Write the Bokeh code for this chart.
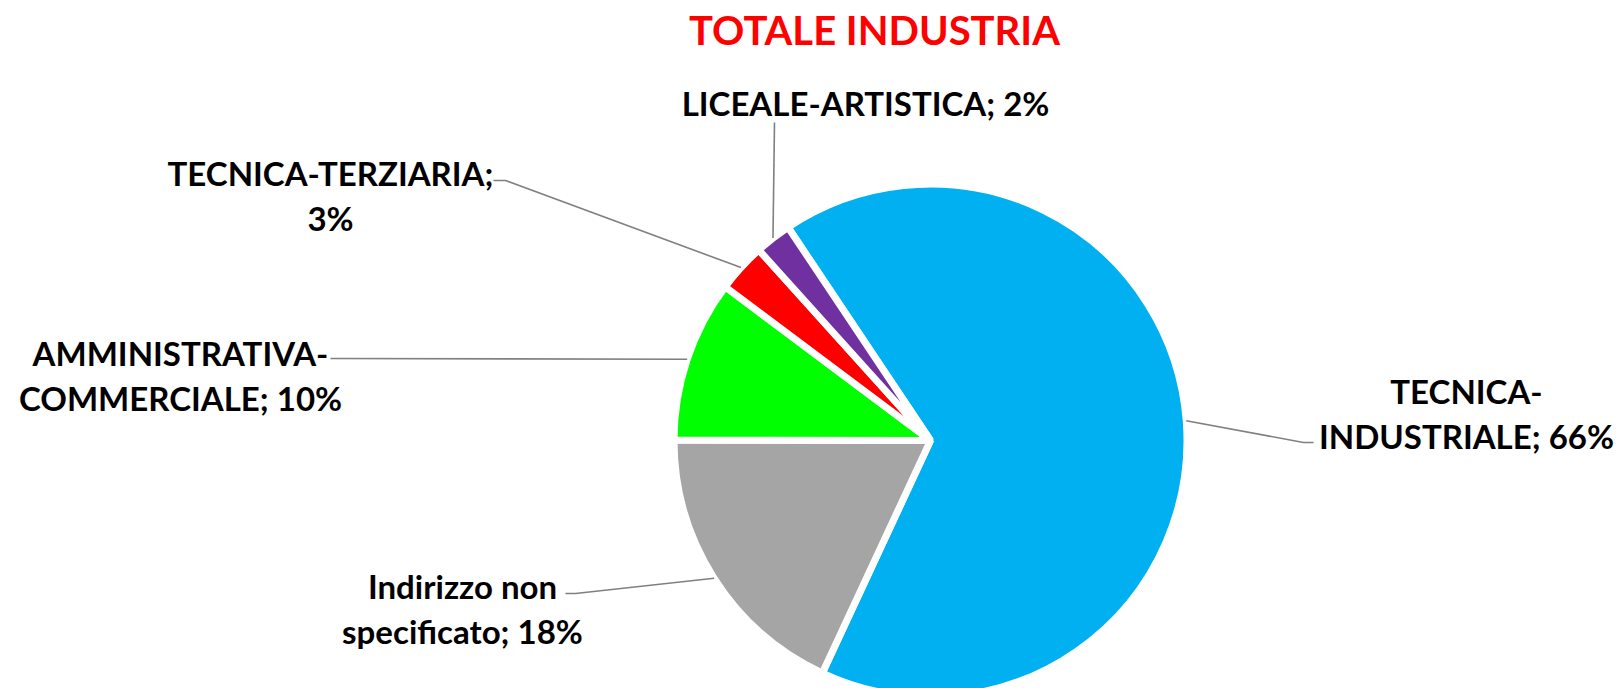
import math
from bokeh.plotting import figure
from bokeh.models import Range1d, ColumnDataSource
from bokeh.embed import file_html
from bokeh.resources import INLINE
from bokeh.core.properties import value

# ---- data ----
categories = ["TECNICA-INDUSTRIALE", "Indirizzo non specificato",
              "AMMINISTRATIVA-COMMERCIALE", "TECNICA-TERZIARIA", "LICEALE-ARTISTICA"]
shares = [66.3, 18.1, 10.2, 3.1, 2.3]
colors = ["#00B0F0", "#A5A5A5", "#00FF00", "#FF0000", "#7030A0"]
title_text = "TOTALE INDUSTRIA"

# ---- layout (screen pixel coordinates) ----
W, H = 1618, 688
cx, cy = 930, 440          # pie centre
R = 256.5                  # pie radius
first_angle = 123.75       # degrees, where first slice starts (math angle), going clockwise
wrap_at = [8, 13, 15, 18, None]
label_pos = [(1466, 400), (462, 595), (180, 362), (330, 182), (865, 112)]
line_gap = 45
label_fs = 33
title_fs = 40
label_shift = 0.3          # em offset correction for the alphabetic baseline
title_shift = 0.4
leader_tail = [
    [(1303, 442), (1313, 442)],
    [(575, 593), (565, 593)],
    [(330, 358)],
    [(505, 180), (493, 180)],
    [(774, 122)],
]

p = figure(width=W, height=H, x_range=Range1d(0, W), y_range=Range1d(-H, 0),
           output_backend="svg", toolbar_location=None, min_border=0,
           x_axis_type=None, y_axis_type=None)
p.grid.visible = False
p.outline_line_color = None
p.background_fill_color = "white"
p.border_fill_color = "white"

total = sum(shares)
starts, ends, mids = [], [], []
a = first_angle
for s in shares:
    span = 360.0 * s / total
    starts.append(math.radians(a - span))
    ends.append(math.radians(a))
    mids.append(math.radians(a - span / 2))
    a -= span

src = ColumnDataSource(dict(x=[cx] * len(shares), y=[-cy] * len(shares),
                            start=starts, end=ends, color=colors, cat=categories))
p.wedge(x="x", y="y", radius=R, start_angle="start", end_angle="end",
        fill_color="color", line_color="white", line_width=7, source=src)

# leader lines
xs, ys = [], []
for m, tail in zip(mids, leader_tail):
    px = cx + R * math.cos(m)
    py = cy - R * math.sin(m)
    xs.append([px] + [t[0] for t in tail])
    ys.append([-py] + [-t[1] for t in tail])
p.multi_line(xs, ys, line_color="#808080", line_width=1.6)

# labels
tx, ty, tt = [], [], []
for cat, s, w, (lx, ly) in zip(categories, shares, wrap_at, label_pos):
    lab = f"{cat}; {round(s)}%"
    lines = [lab] if w is None else [lab[:w].strip(), lab[w:].strip()]
    for i, ln in enumerate(lines):
        tx.append(lx)
        ty.append(-(ly + i * line_gap - label_shift * label_fs))
        tt.append(ln)
p.text(tx, ty, text=tt, text_font=value("Lato"), text_font_style="bold",
       text_font_size=f"{label_fs}px", text_align="center", text_baseline="alphabetic",
       text_color="black")

p.text([874], [-(45 - title_shift * title_fs)], text=[title_text], text_font=value("Lato"),
       text_font_style="bold", text_font_size=f"{title_fs}px", text_align="center",
       text_baseline="alphabetic", text_color="#FF0000")

open("out.html", "w").write(file_html(p, INLINE))
